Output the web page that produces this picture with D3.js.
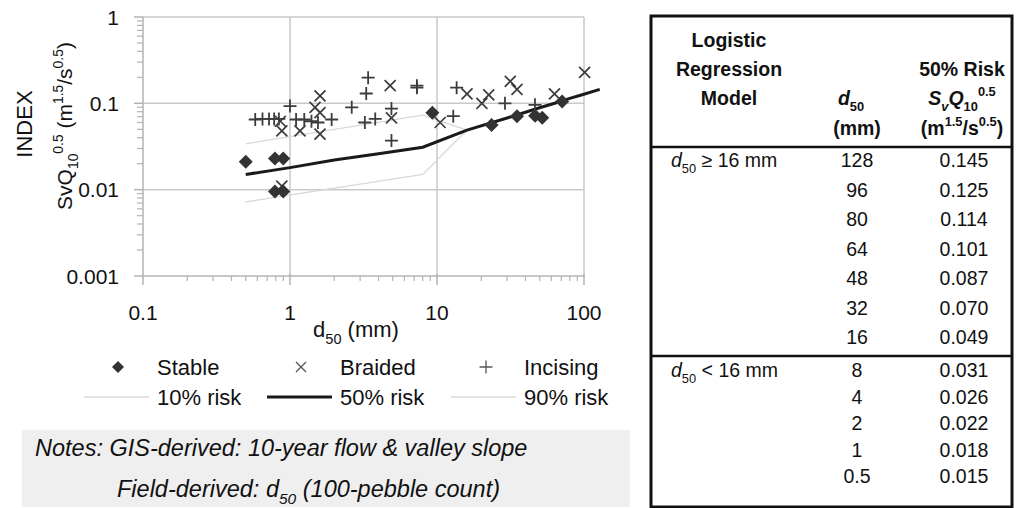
<!DOCTYPE html>
<html>
<head>
<meta charset="utf-8">
<script src="https://cdn.jsdelivr.net/npm/d3@7/dist/d3.min.js"></script>
<style>
  html, body { margin: 0; padding: 0; background: #fff; }
  svg { display: block; font-family: Arial, "Liberation Sans", sans-serif; }
</style>
</head>
<body>
<svg id="chart" width="1017" height="508"></svg>
<script>
// observed channels, d50 (mm) and index S_v Q10^0.5
const stableD50 = [0.5, 0.79, 0.9, 0.79, 0.9, 9.3, 23.5, 35, 46.5, 52, 71];
const stableIdx = [0.021, 0.023, 0.023, 0.0095, 0.0095, 0.078, 0.056, 0.071, 0.072, 0.068, 0.105];

const braidedD50 = [0.88, 0.86, 0.88, 1.17, 1.48, 1.6, 1.6, 1.6, 4.8, 4.9, 10.5, 16, 20.2, 22.5, 31.5, 35, 63, 101];
const braidedIdx = [0.011, 0.062, 0.048, 0.048, 0.09, 0.122, 0.078, 0.044, 0.16, 0.068, 0.06, 0.129, 0.1, 0.125, 0.18, 0.145, 0.129, 0.228];

const incisingD50 = [0.58, 0.65, 0.72, 0.78, 0.84, 1.0, 1.1, 1.25, 1.4, 1.55, 1.92, 2.63, 3.4, 3.3, 3.23, 3.8, 4.9, 4.9, 7.3, 7.3, 12.9, 13.6, 29, 46.4];
const incisingIdx = [0.065, 0.066, 0.066, 0.066, 0.066, 0.093, 0.065, 0.065, 0.062, 0.06, 0.065, 0.09, 0.198, 0.13, 0.06, 0.066, 0.087, 0.037, 0.152, 0.16, 0.071, 0.152, 0.1, 0.096];

// logistic regression thresholds
const riskD50 = [0.5, 1, 2, 4, 8, 16, 32, 48, 64, 80, 96, 128];
const risk50 = [0.015, 0.018, 0.022, 0.026, 0.031, 0.049, 0.070, 0.087, 0.101, 0.114, 0.125, 0.145];
const bandD50 = [0.5, 8, 16];
const risk10 = [0.0072, 0.015, 0.049];
const risk90 = [0.034, 0.073, 0.049];

const xTicks = [0.1, 1, 10, 100];
const yTicks = [0.001, 0.01, 0.1, 1];

const legendMarkers = ['Stable', 'Braided', 'Incising'];
const legendLines = ['10% risk', '50% risk', '90% risk'];

const GRID = '#c9c9c9';
const INK = '#333';
const LIGHT = '#d8d8d8';

const svg = d3.select('#chart');

const x = d3.scaleLog().domain([0.1, 100]).range([143, 584]);
const y = d3.scaleLog().domain([0.001, 1]).range([276, 17]);

// minor ticks 2..9 per decade
function minorTicks(domain) {
  const out = [];
  for (let p = Math.log10(domain[0]); p < Math.log10(domain[1]); p++) {
    for (let m = 2; m <= 9; m++) out.push(m * Math.pow(10, p));
  }
  return out;
}

const plot = svg.append('g').attr('class', 'plot');

// grid + frame
plot.append('g').selectAll('line')
  .data(xTicks.slice(1))
  .join('line')
  .attr('x1', (d) => x(d)).attr('x2', (d) => x(d))
  .attr('y1', y(1)).attr('y2', y(0.001))
  .attr('stroke', GRID).attr('stroke-width', 1.5);

plot.append('g').selectAll('line')
  .data(yTicks.slice(1))
  .join('line')
  .attr('x1', x(0.1)).attr('x2', x(100))
  .attr('y1', (d) => y(d)).attr('y2', (d) => y(d))
  .attr('stroke', GRID).attr('stroke-width', 1.5);

// axes
const axisColor = '#b3b3b3';
const xAxis = plot.append('g');
xAxis.append('line')
  .attr('x1', x(0.1)).attr('x2', x(100))
  .attr('y1', y(0.001)).attr('y2', y(0.001))
  .attr('stroke', axisColor).attr('stroke-width', 1.5);
xAxis.selectAll('line.minor')
  .data(minorTicks(x.domain()))
  .join('line').attr('class', 'minor')
  .attr('x1', (d) => x(d)).attr('x2', (d) => x(d))
  .attr('y1', y(0.001)).attr('y2', y(0.001) + 5)
  .attr('stroke', axisColor).attr('stroke-width', 1.2);
xAxis.selectAll('line.major')
  .data(xTicks)
  .join('line').attr('class', 'major')
  .attr('x1', (d) => x(d)).attr('x2', (d) => x(d))
  .attr('y1', y(0.001) - 2).attr('y2', y(0.001) + 9)
  .attr('stroke', axisColor).attr('stroke-width', 1.5);
xAxis.selectAll('text')
  .data(xTicks)
  .join('text')
  .attr('x', (d) => x(d)).attr('y', 320)
  .attr('text-anchor', 'middle')
  .attr('font-size', 21).attr('fill', '#111')
  .text((d) => d3.format('~g')(d));

const yAxis = plot.append('g');
yAxis.append('line')
  .attr('x1', x(0.1)).attr('x2', x(0.1))
  .attr('y1', y(1)).attr('y2', y(0.001))
  .attr('stroke', axisColor).attr('stroke-width', 1.5);
yAxis.selectAll('line.minor')
  .data(minorTicks(y.domain()))
  .join('line').attr('class', 'minor')
  .attr('x1', x(0.1) - 6).attr('x2', x(0.1))
  .attr('y1', (d) => y(d)).attr('y2', (d) => y(d))
  .attr('stroke', axisColor).attr('stroke-width', 1.2);
yAxis.selectAll('line.major')
  .data(yTicks)
  .join('line').attr('class', 'major')
  .attr('x1', x(0.1) - 9).attr('x2', x(0.1))
  .attr('y1', (d) => y(d)).attr('y2', (d) => y(d))
  .attr('stroke', axisColor).attr('stroke-width', 1.5);
yAxis.selectAll('text')
  .data(yTicks)
  .join('text')
  .attr('x', 119).attr('y', (d) => y(d))
  .attr('dy', '0.36em')
  .attr('text-anchor', 'end')
  .attr('font-size', 21).attr('fill', '#111')
  .text((d) => String(d));

// rich text: parts are [string, kind] with kind sub | sup | it
function richText(sel, parts, size) {
  let shift = 0;
  parts.forEach(([str, kind]) => {
    const small = kind === 'sub' || kind === 'sup';
    const target = kind === 'sub' ? size * 0.3 : kind === 'sup' ? -size * 0.45 : 0;
    const ts = sel.append('tspan')
      .attr('dy', target - shift)
      .attr('font-size', small ? size * 0.66 : size)
      .text(str);
    if (kind === 'it') ts.attr('font-style', 'italic');
    shift = target;
  });
  if (shift) sel.append('tspan').attr('dy', -shift).text('');
}

svg.append('text')
  .attr('transform', 'translate(32,124) rotate(-90)')
  .attr('text-anchor', 'middle')
  .attr('font-size', 22).attr('fill', '#111')
  .text('INDEX');

richText(
  svg.append('text')
    .attr('transform', 'translate(72,126) rotate(-90)')
    .attr('text-anchor', 'middle')
    .attr('fill', '#111'),
  [['SvQ'], ['10', 'sub'], ['0.5', 'sup'], [' (m'], ['1.5', 'sup'], ['/s'], ['0.5', 'sup'], [')']],
  21
);

richText(
  svg.append('text')
    .attr('x', 356).attr('y', 337)
    .attr('text-anchor', 'middle')
    .attr('fill', '#111'),
  [['d'], ['50', 'sub'], [' (mm)']],
  22
);

// risk lines
const line = d3.line().x((d) => x(d[0])).y((d) => y(d[1]));
const lines = plot.append('g').attr('fill', 'none');
lines.append('path')
  .attr('d', line(d3.zip(bandD50, risk10)))
  .attr('stroke', LIGHT).attr('stroke-width', 1.3);
lines.append('path')
  .attr('d', line(d3.zip(bandD50, risk90)))
  .attr('stroke', LIGHT).attr('stroke-width', 1.3);

// marker shapes
const diamondPath = (r) => `M0,${-r}L${r},0L0,${r}L${-r},0Z`;
const timesPath = (r) => `M${-r},${-r}L${r},${r}M${-r},${r}L${r},${-r}`;
const plusPath = (r) => `M${-r},0L${r},0M0,${-r}L0,${r}`;

const markers = plot.append('g');
markers.selectAll('path.braided')
  .data(d3.zip(braidedD50, braidedIdx))
  .join('path').attr('class', 'braided')
  .attr('transform', (d) => `translate(${x(d[0])},${y(d[1])})`)
  .attr('d', timesPath(5.5))
  .attr('stroke', '#3c3c3c').attr('stroke-width', 1.7).attr('fill', 'none');
markers.selectAll('path.incising')
  .data(d3.zip(incisingD50, incisingIdx))
  .join('path').attr('class', 'incising')
  .attr('transform', (d) => `translate(${x(d[0])},${y(d[1])})`)
  .attr('d', plusPath(6.5))
  .attr('stroke', '#3c3c3c').attr('stroke-width', 1.8).attr('fill', 'none');

lines.append('path')
  .attr('d', line(d3.zip(riskD50, risk50)))
  .attr('stroke', '#1a1a1a').attr('stroke-width', 3);

markers.selectAll('path.stable')
  .data(d3.zip(stableD50, stableIdx))
  .join('path').attr('class', 'stable')
  .attr('transform', (d) => `translate(${x(d[0])},${y(d[1])})`)
  .attr('d', diamondPath(7))
  .attr('fill', INK);

// legend
const legendX = [118, 301, 486];
const legendTextX = [157, 340, 524];
const legend = svg.append('g').attr('font-size', 22).attr('fill', '#111');
const legendShapes = [
  (g) => g.append('path').attr('d', diamondPath(6)).attr('fill', INK),
  (g) => g.append('path').attr('d', timesPath(5)).attr('stroke', '#555').attr('stroke-width', 1.3).attr('fill', 'none'),
  (g) => g.append('path').attr('d', plusPath(6.5)).attr('stroke', '#555').attr('stroke-width', 1.3).attr('fill', 'none')
];
legendMarkers.forEach((name, i) => {
  legendShapes[i](legend.append('g').attr('transform', `translate(${legendX[i]},367)`));
  legend.append('text').attr('x', legendTextX[i]).attr('y', 375).text(name);
});
const legendStroke = [[LIGHT, 1.3], ['#1a1a1a', 3], [LIGHT, 1.3]];
legendLines.forEach((name, i) => {
  legend.append('line')
    .attr('x1', legendTextX[i] - 73).attr('x2', legendTextX[i] - 8)
    .attr('y1', 397).attr('y2', 397)
    .attr('stroke', legendStroke[i][0]).attr('stroke-width', legendStroke[i][1]);
  legend.append('text').attr('x', legendTextX[i]).attr('y', 405).text(name);
});

// notes box
const notes = svg.append('g');
notes.append('rect')
  .attr('x', 22).attr('y', 430).attr('width', 608).attr('height', 77)
  .attr('fill', '#efefef');
notes.append('text')
  .attr('x', 35).attr('y', 456)
  .attr('font-size', 23.5).attr('font-style', 'italic').attr('fill', '#111')
  .text('Notes: GIS-derived: 10-year flow & valley slope');
richText(
  notes.append('text')
    .attr('x', 117).attr('y', 497)
    .attr('font-style', 'italic').attr('fill', '#111'),
  [['Field-derived: d'], ['50', 'sub'], [' (100-pebble count)']],
  23.5
);

// table of 50% risk thresholds
const tbl = svg.append('g').attr('fill', '#111');
const T = { left: 651, right: 1012, top: 16, bottom: 507, head: 147, split: 356 };
tbl.append('rect')
  .attr('x', T.left).attr('y', T.top)
  .attr('width', T.right - T.left).attr('height', T.bottom - T.top)
  .attr('fill', 'none').attr('stroke', '#111').attr('stroke-width', 3);
[T.head, T.split].forEach((yy) => {
  tbl.append('line')
    .attr('x1', T.left).attr('x2', T.right)
    .attr('y1', yy).attr('y2', yy)
    .attr('stroke', '#111').attr('stroke-width', 2.5);
});

const colX = [729, 857, 962];
const head = tbl.append('g').attr('font-weight', 'bold').attr('font-size', 19.5).attr('text-anchor', 'middle');
[['Logistic', 47], ['Regression', 76], ['Model', 105]].forEach(([t, yy]) => {
  head.append('text').attr('x', colX[0]).attr('y', yy).text(t);
});
richText(head.append('text').attr('x', colX[1] - 6).attr('y', 105), [['d', 'it'], ['50', 'sub']], 19.5);
head.append('text').attr('x', colX[1]).attr('y', 135).text('(mm)');
head.append('text').attr('x', colX[2]).attr('y', 76).text('50% Risk');
richText(head.append('text').attr('x', colX[2]).attr('y', 105),
  [['S', 'it'], ['v', 'sub'], ['Q', 'it'], ['10', 'sub'], ['0.5', 'sup']], 19.5);
richText(head.append('text').attr('x', colX[2]).attr('y', 135),
  [['(m'], ['1.5', 'sup'], ['/s'], ['0.5', 'sup'], [')']], 19.5);
head.selectAll('tspan').filter(function () { return this.textContent === 'v'; }).attr('font-style', 'italic');

const rows = d3.zip(riskD50, risk50).reverse();
const upper = rows.filter((r) => r[0] >= 16);
const lower = rows.filter((r) => r[0] < 16);
const body = tbl.append('g').attr('font-size', 19.5);

function drawRows(data, y0, step, label) {
  body.selectAll(null)
    .data(data)
    .join('text')
    .attr('x', colX[1]).attr('y', (d, i) => y0 + i * step)
    .attr('text-anchor', 'middle')
    .text((d) => d3.format('~g')(d[0]));
  body.selectAll(null)
    .data(data)
    .join('text')
    .attr('x', colX[2] + 2).attr('y', (d, i) => y0 + i * step)
    .attr('text-anchor', 'middle')
    .text((d) => d[1].toFixed(3));
  richText(body.append('text').attr('x', 671).attr('y', y0),
    [['d', 'it'], ['50', 'sub'], [label]], 19.5);
}
drawRows(upper, 167, 29.5, ' \u2265 16 mm');
drawRows(lower, 377, 26.5, ' < 16 mm');
</script>
</body>
</html>
